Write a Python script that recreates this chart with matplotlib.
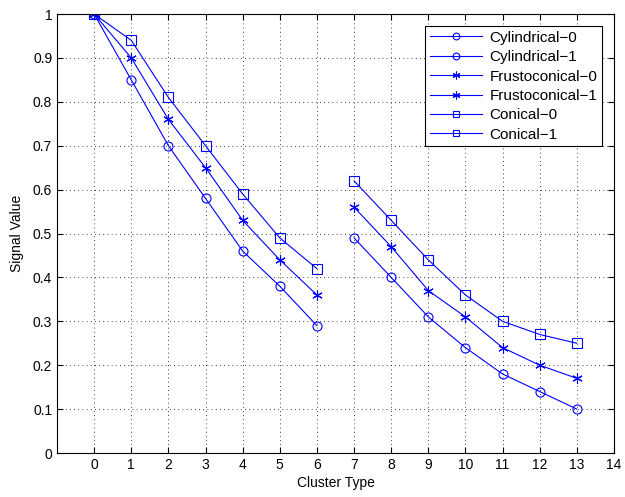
import matplotlib
matplotlib.use("Agg")
import matplotlib.pyplot as plt

plt.rcParams['font.family'] = ['Liberation Sans', 'DejaVu Sans']

x_first = [0, 1, 2, 3, 4, 5, 6]
x_second = [7, 8, 9, 10, 11, 12, 13]

cyl_0 = [1.0, 0.85, 0.70, 0.58, 0.46, 0.38, 0.29]
cyl_1 = [0.49, 0.40, 0.31, 0.24, 0.18, 0.14, 0.10]
fru_0 = [1.0, 0.90, 0.76, 0.65, 0.53, 0.44, 0.36]
fru_1 = [0.56, 0.47, 0.37, 0.31, 0.24, 0.20, 0.17]
con_0 = [1.0, 0.94, 0.81, 0.70, 0.59, 0.49, 0.42]
con_1 = [0.62, 0.53, 0.44, 0.36, 0.30, 0.27, 0.25]

asterisk = (6, 2, 0)
series = [
    ("Cylindrical-0", x_first, cyl_0, "o"),
    ("Cylindrical-1", x_second, cyl_1, "o"),
    ("Frustoconical-0", x_first, fru_0, asterisk),
    ("Frustoconical-1", x_second, fru_1, asterisk),
    ("Conical-0", x_first, con_0, "s"),
    ("Conical-1", x_second, con_1, "s"),
]

fig = plt.figure(figsize=(6.25, 4.97), dpi=100)
ax = fig.add_axes([0.0912, 0.0885, 0.8912, 0.8833])

for label, xs, ys, mk in series:
    ms = 7.5 if mk == asterisk else 6.5
    ax.plot(xs, ys, color="blue", lw=0.8, marker=mk, ms=ms, mfc="none",
            mec="blue", mew=0.8, label=label.replace("-", "\u2212"))

ax.set_xlim(-1, 14)
ax.set_ylim(0, 1)
ax.set_xticks(range(0, 15))
ax.set_yticks([i / 10 for i in range(11)])
ax.set_yticklabels(["0"] + [f"{i/10:.1f}" for i in range(1, 10)] + ["1"])
ax.tick_params(direction="in", top=True, right=True, labelsize=10, length=4)
ax.grid(True, color="black", linestyle=(0, (1, 4)), lw=0.6)
for s in ax.spines.values():
    s.set_linewidth(0.8)

ax.set_xlabel("Cluster Type", fontsize=10, labelpad=3)
ax.set_ylabel("Signal Value", fontsize=10, labelpad=6)

leg = ax.legend(loc="upper right", fontsize=11, fancybox=False, framealpha=1,
                edgecolor="black", borderaxespad=0.8, handlelength=3.4,
                labelspacing=0.35, borderpad=0.3, markerscale=0.75,
                handletextpad=0.5)
leg.get_frame().set_linewidth(0.8)

plt.savefig("out.png", dpi=100)
